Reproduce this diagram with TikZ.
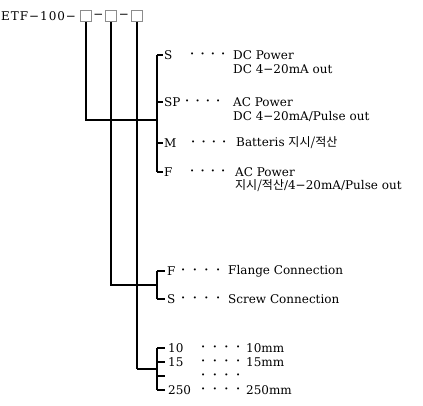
\documentclass[tikz,border=0pt]{standalone}
\usepackage{fontspec}
\setmainfont{DejaVu Serif}
\newfontfamily\kor{Noto Sans CJK KR}
\newcommand{\dotrow}[1]{\foreach \k in {1,...,4}{{\fontsize{7}{7}\selectfont •}\hspace{#1}}}
\begin{document}
\begin{tikzpicture}[x=1pt,y=-1pt,
    slot/.style={draw=black!45,fill=white,line width=0.8pt,minimum size=11pt,inner sep=0pt},
    txt/.style={anchor=west,inner sep=0pt,font=\fontsize{12}{14}\selectfont},
    trunk/.style={line width=2pt},
    twig/.style={line width=1.1pt}]
  \useasboundingbox (0,0) rectangle (423,406);
  % model code with three option slots
  \node[txt] (code) at (1,16) {\addfontfeatures{LetterSpace=8}ETF−100−};
  \foreach \i/\x in {1/86, 2/111, 3/137}{
    \node[slot] (b\i) at (\x,16) {};
  }
  \node[txt,anchor=center] (m1) at (98.5,16) {−};
  \node[txt,anchor=center] (m2) at (124,16) {−};
  % junctions on the brackets
  \coordinate (j1) at (157,120);
  \coordinate (j2) at (157,285);
  \coordinate (j3) at (157,369);
  \draw[trunk] (b1.south) -- (b1.south |- j1) -- (j1);
  \draw[trunk] (b2.south) -- (b2.south |- j2) -- (j2);
  \draw[twig] (b3.south) -- (b3.south |- j3);
  \draw[trunk] (b3.south |- j3) -- (j3);
  % (1) power / output
  \foreach \i/\c/\y/\d in {1/S/55/190, 2/SP/102/185, 3/M/143/191, 4/F/172/190}{
    \coordinate (p\i) at (157,\y);
    \draw[twig] (p\i) -- ++(6,0);
    \node[txt] (pc\i) at (164,\y) {\c};
    \node[txt] (pd\i) at (\d,\y) {\dotrow{6.2pt}};
  }
  \draw[twig] (p1) -- (p4);
  \node[txt] (pa1) at (233,55) {DC Power};
  \node[txt] (pb1) at (233,69) {DC 4−20mA out};
  \node[txt] (pa2) at (233,102) {AC Power};
  \node[txt] (pb2) at (233,116) {DC 4−20mA/Pulse out};
  \node[txt] (pa3) at (236,143) {Batteris {\kor 지시/적산}};
  \node[txt] (pa4) at (235,172) {AC Power};
  \node[txt] (pb4) at (235,186) {{\kor 지시/적산}/4−20mA/Pulse out};
  % (2) connection
  \foreach \i/\c/\y/\t in {1/F/271/Flange Connection, 2/S/299/Screw Connection}{
    \coordinate (c\i) at (157,\y);
    \draw[twig] (c\i) -- ++(8,0);
    \node[txt] (cc\i) at (167,\y) {\c};
    \node[txt] (cd\i) at (181,\y) {\dotrow{7.5pt}};
    \node[txt] (ct\i) at (228,\y) {\t};
  }
  \draw[twig] (c1) -- (c2);
  % (3) size
  \foreach \i/\c/\y/\t in {1/10/348/10mm, 2/15/362/15mm, 3//376/, 4/250/390/250mm}{
    \coordinate (s\i) at (157,\y);
    \draw[twig] (s\i) -- ++(8,0);
    \node[txt] (sc\i) at (168,\y) {\c};
    \node[txt] (sd\i) at (201,\y) {\dotrow{7.5pt}};
    \node[txt] (st\i) at (246,\y) {\t};
  }
  \draw[twig] (s1) -- (s4);
\end{tikzpicture}
\end{document}
